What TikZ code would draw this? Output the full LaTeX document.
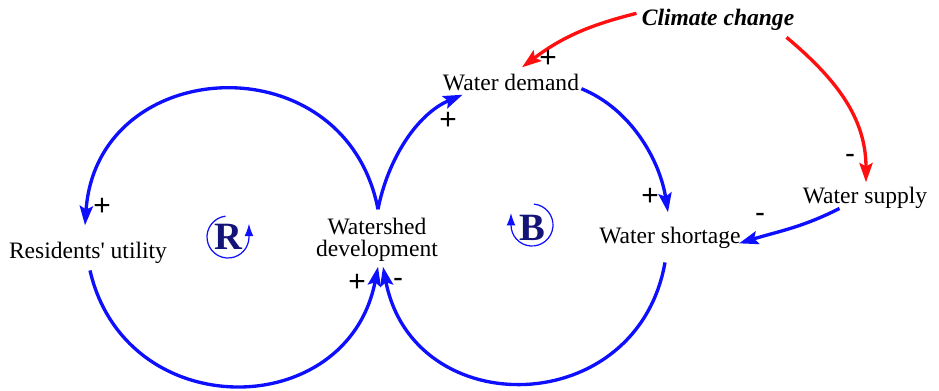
\documentclass[tikz,border=0pt]{standalone}
\usepackage{fontspec}
\setmainfont{Liberation Serif}
\newfontfamily\signfont{Liberation Sans}
\usetikzlibrary{arrows.meta, calc}
\definecolor{loopblue}{RGB}{15,15,255}
\definecolor{causered}{RGB}{255,15,15}
\definecolor{loopnavy}{RGB}{20,20,120}

\begin{document}
\begin{tikzpicture}[x=0.02cm, y=0.02cm,
  var/.style={inner sep=0pt, font=\fontsize{13.4}{12.2}\selectfont},
  sgn/.style={inner sep=0pt, font=\fontsize{17}{17}\selectfont\signfont},
  lbl/.style={inner sep=0pt, text=loopnavy, font=\fontsize{22}{22}\selectfont\bfseries},
  arr/.style={-{Stealth[length=11pt, width=7.5pt, inset=2pt]}, line width=1.9pt, loopblue},
  redarr/.style={arr, causered},
  looparr/.style={-{Latex[length=7pt, width=5pt]}, line width=0.7pt, loopblue}
]
  \useasboundingbox (0,0) rectangle (939,390);

  \node[var, anchor=base] (util)    at (88,132)  {Residents\textquotesingle{} utility};
  \node[var, align=center] (wd)     at (377,150) {Watershed\\development};
  \node[var, anchor=base] (dem)     at (511,300) {Water demand};
  \node[var, anchor=base] (short)   at (670,147) {Water shortage};
  \node[var, anchor=base] (supply)  at (865,187) {Water supply};
  \node[var, anchor=base, font=\fontsize{13.4}{13.4}\selectfont\bfseries\itshape]
       (climate) at (718,365) {Climate change};

  \node[lbl] (R) at (228,153) {R};
  \node[lbl] (B) at (532,162) {B};

  \draw[arr] ($(wd.north)+(1,9)$) to[out=101, in=86, looseness=1.5] ($(util.north)+(-3,16)$);
  \draw[arr] ($(util.south)+(2,-7)$) to[out=283, in=259, looseness=1.41] ($(wd.south)+(1,-5)$);
  \draw[arr] ($(wd.north)+(1,9)$) to[out=79, in=203, looseness=0.9] ($(dem.south west)+(20,-4)$);
  \draw[arr] ($(dem.south east)+(2,2)$) to[out=-22, in=99, looseness=0.9] ($(short.north)+(-2,14)$);
  \draw[arr] ($(short.south)+(-5,-14)$) to[out=260, in=281, looseness=1.45] ($(wd.south)+(6,-5)$);
  \draw[arr] ($(supply.south west)+(37,0)$) to[out=207, in=17] ($(short.east)+(-2,-6)$);

  \draw[redarr] ($(climate.west)+(-5,6)$) to[out=194, in=37] ($(dem.north)+(11,6)$);
  \draw[redarr] ($(climate.south east)+(-8,-7)$) to[out=-40, in=90] ($(supply.north)+(1,4)$);

  \draw[looparr] ($(R)+(97:21)$) arc[start angle=97, end angle=358, radius=0.42cm] -- ++(0,14);
  \draw[looparr] ($(B)+(0,3)+(85:21)$) arc[start angle=85, end angle=-180, radius=0.42cm] -- ++(0,12);

  \node[sgn] (s1) at (102,183) {+};
  \node[sgn] (s2) at (357,107) {+};
  \node[sgn] (s3) at (398,107) {-};
  \node[sgn] (s4) at (448,269) {+};
  \node[sgn] (s5) at (548,331) {+};
  \node[sgn] (s6) at (650,193) {+};
  \node[sgn] (s7) at (760,172) {-};
  \node[sgn] (s8) at (850,231) {-};
\end{tikzpicture}
\end{document}
